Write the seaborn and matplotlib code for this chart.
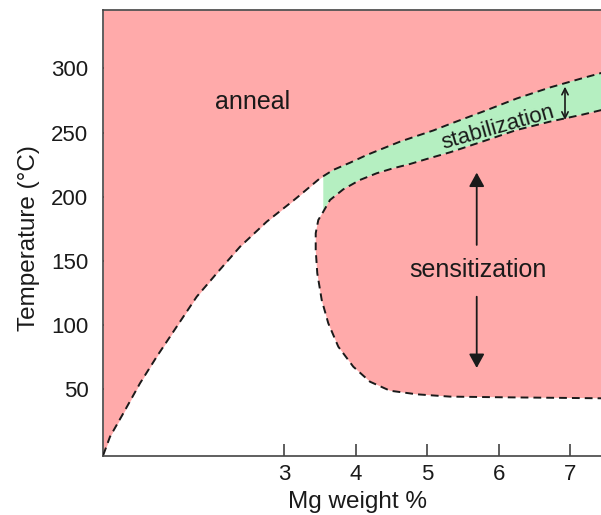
import numpy as np
import pandas as pd
import matplotlib
matplotlib.use("Agg")
import matplotlib.pyplot as plt
import seaborn as sns

# anneal boundary, continuing as upper edge of the stabilization band
anneal_x = [0.466, 0.560, 0.746, 0.980, 1.214, 1.494, 1.774, 2.054, 2.380, 2.754,
            3.126, 3.220, 3.500, 3.686, 3.920, 4.154, 4.386, 4.620, 4.854, 5.086,
            5.320, 5.786, 6.254, 6.720, 7.186, 7.440]
anneal_y = [-1.0, 13.2, 31.4, 54.8, 75.5, 98.9, 122.2, 140.4, 161.1, 180.6,
            197.0, 201.3, 214.4, 220.9, 226.5, 232.5, 237.7, 242.9, 247.3, 251.6,
            256.7, 266.4, 276.5, 285.1, 292.5, 296.4]

# sensitization boundary: top edge (right to left), then round the nose and along the bottom
sens_x = [7.440, 7.186, 6.720, 6.254, 5.786, 5.320, 4.994, 4.760, 4.526, 4.294,
          4.060, 3.826, 3.640, 3.546, 3.476, 3.440, 3.440, 3.462, 3.524, 3.616,
          3.756, 3.966, 4.200, 4.480, 4.854, 5.320, 6.020, 7.440]
sens_y = [267.5, 264.1, 258.5, 252.0, 243.2, 234.6, 229.4, 225.5, 222.2, 218.3,
          213.1, 205.8, 197.5, 188.4, 181.9, 171.6, 158.6, 140.4, 119.6, 101.5,
          83.3, 67.7, 56.0, 49.0, 46.2, 44.4, 43.9, 43.1]

stab_left_x = 3.546          # vertical left edge of the green band
x_ticks = [3, 4, 5, 6, 7]
y_ticks = [50, 100, 150, 200, 250, 300]
x_lim = (0.462, 7.434)
y_lim = (-1.6, 345.4)

red = "#ffaaaa"
green = "#b5efc1"
ink = "#1a1a1a"

sns.set_theme(style="ticks")
plt.rcParams["font.family"] = ["Liberation Sans", "DejaVu Sans"]

fig = plt.figure(figsize=(6.01, 5.15), dpi=100)
ax = fig.add_axes([103 / 601, 1 - 455.7 / 515, 498 / 601, 445.7 / 515])

# anneal region (above the boundary)
ax.fill_between(anneal_x, anneal_y, y_lim[1], color=red, lw=0, zorder=1)

# stabilization band: upper edge right of the cut, lower edge back from sensitization top
up = pd.DataFrame({"x": anneal_x, "y": anneal_y})
up = up[up.x >= stab_left_x]
up_y0 = np.interp(stab_left_x, anneal_x, anneal_y)
lo = pd.DataFrame({"x": sens_x, "y": sens_y}).iloc[:14]
band_x = [stab_left_x] + list(up.x) + list(lo.x)
band_y = [up_y0] + list(up.y) + list(lo.y)
ax.fill(band_x, band_y, color=green, lw=0, zorder=1)

# sensitization region
ax.fill(sens_x, sens_y, color=red, lw=0, zorder=1)

dash = (0, (4, 2.6))
sns.lineplot(x=anneal_x, y=anneal_y, sort=False, estimator=None, ax=ax,
             color=ink, lw=1.4, linestyle=dash, zorder=3)
sns.lineplot(x=sens_x, y=sens_y, sort=False, estimator=None, ax=ax,
             color=ink, lw=1.4, linestyle=dash, zorder=3)

# arrows
ax.annotate("", xy=(5.694, 218.8), xytext=(5.694, 162.5),
            arrowprops=dict(arrowstyle="-|>,head_length=0.4,head_width=0.22",
                            mutation_scale=21, lw=1.3, color=ink,
                            shrinkA=0, shrinkB=0), zorder=4)
ax.annotate("", xy=(5.694, 66.7), xytext=(5.694, 122.2),
            arrowprops=dict(arrowstyle="-|>,head_length=0.4,head_width=0.22",
                            mutation_scale=21, lw=1.3, color=ink,
                            shrinkA=0, shrinkB=0), zorder=4)
ax.annotate("", xy=(6.93, 285.7), xytext=(6.93, 259.8),
            arrowprops=dict(arrowstyle="<->,head_length=0.5,head_width=0.25",
                            mutation_scale=9, lw=1.2, color=ink,
                            shrinkA=0, shrinkB=0), zorder=4)

ax.text(2.555, 274.0, "anneal", fontsize=18, color=ink, ha="center", va="center")
ax.text(5.716, 143.0, "sensitization", fontsize=18, color=ink, ha="center", va="center")
ax.text(5.985, 254.0, "stabilization", fontsize=16, color=ink, ha="center", va="center",
        rotation=16, rotation_mode="anchor")

ax.set_xlim(*x_lim)
ax.set_ylim(*y_lim)
ax.set_xticks(x_ticks)
ax.set_yticks(y_ticks)
ax.tick_params(axis="both", direction="in", length=8.5, width=1.1, color="#333333",
               labelsize=16, labelcolor=ink)
ax.tick_params(axis="y", pad=10.5)
ax.tick_params(axis="x", pad=6)
for side in ["left", "bottom", "top"]:
    ax.spines[side].set_visible(True)
    ax.spines[side].set_color("#444444")
    ax.spines[side].set_linewidth(1.2)
ax.spines["right"].set_visible(False)

ax.set_xlabel("Mg weight %", fontsize=17.5, color=ink)
ax.set_ylabel("Temperature (°C)", fontsize=17.5, color=ink)
ax.xaxis.set_label_coords((357.5 - 103) / 498, (455.7 - 491) / 445.7)
ax.yaxis.set_label_coords((40 - 103) / 498, (455.7 - 238) / 445.7)

fig.savefig("out.png", dpi=100)
